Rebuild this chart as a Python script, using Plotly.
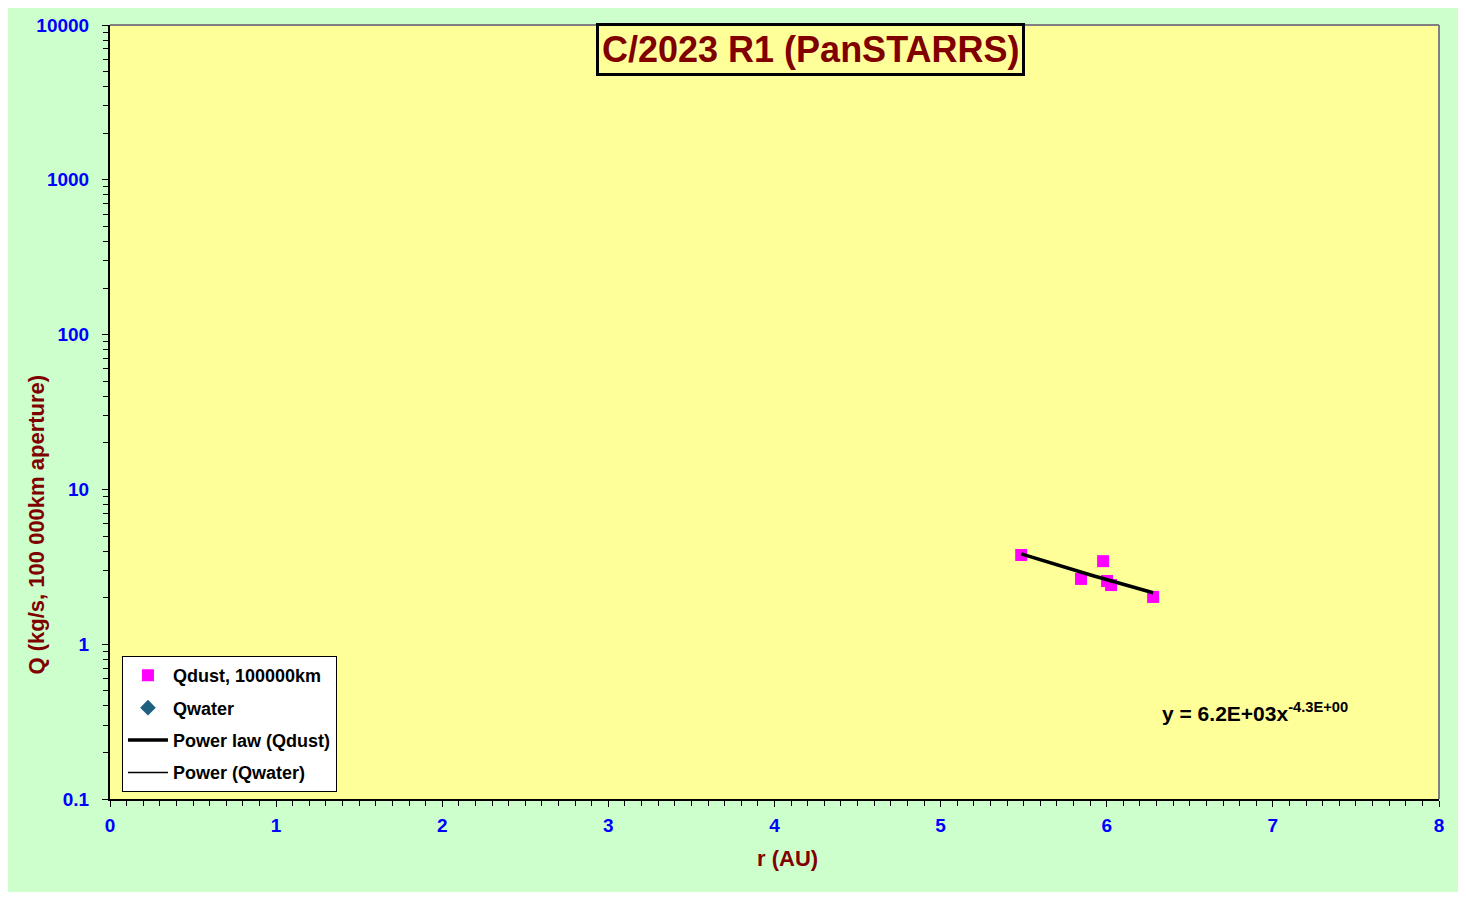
import numpy as np
import plotly.graph_objects as go

# Data
r_dust = [5.485, 5.845, 5.978, 6.002, 6.026, 6.279]
q_dust = [3.77, 2.64, 3.44, 2.56, 2.41, 2.02]
r_water = []
q_water = []
y_ticks = [0.1, 1, 10, 100, 1000, 10000]
y_tick_labels = ["0.1", "1", "10", "100", "1000", "10000"]
x_ticks = [0, 1, 2, 3, 4, 5, 6, 7, 8]

title_text = "C/2023 R1 (PanSTARRS)"
equation_text = "y = 6.2E+03x<sup>-4.3E+00</sup>"
x_title = "r (AU)"
y_title = "Q (kg/s, 100 000km aperture)"

# power-law trend from the data (log-log least squares)
b, a = np.polyfit(np.log(r_dust), np.log(q_dust), 1)
r_fit = np.linspace(min(r_dust), max(r_dust), 30)
q_fit = np.exp(a) * r_fit ** b

FONT = "Liberation Sans, Arial, sans-serif"
DARKRED = "#800000"
BLUE = "#0000FF"

fig = go.Figure()
fig.add_trace(go.Scatter(x=r_dust, y=q_dust, mode="markers", name="<b>Qdust, 100000km</b>",
                         legendgroup="g1",
                         marker=dict(symbol="square", size=12, color="#FF00FF")))
fig.add_trace(go.Scatter(x=r_water if r_water else [None], y=q_water if q_water else [None],
                         mode="markers", name="<b>Qwater</b>", legendgroup="g2",
                         marker=dict(symbol="diamond", size=12, color="#1F5F80")))
fig.add_trace(go.Scatter(x=r_fit, y=q_fit, mode="lines", name="<b>Power law (Qdust)</b>",
                         legendgroup="g3",
                         line=dict(color="black", width=3.5)))
fig.add_trace(go.Scatter(x=[None], y=[None], mode="lines", name="<b>Power (Qwater)</b>",
                         legendgroup="g4",
                         line=dict(color="black", width=1.5)))

fig.update_layout(
    width=1450, height=884,
    margin=dict(l=102, r=19, t=17, b=93),
    paper_bgcolor="#CCFFCC",
    plot_bgcolor="#FFFF99",
    font=dict(family=FONT, color="black"),
    showlegend=True,
    legend=dict(x=0.009, y=0.009, xanchor="left", yanchor="bottom",
                bgcolor="white", bordercolor="black", borderwidth=1,
                font=dict(family=FONT, size=18, color="black"),
                tracegroupgap=6, itemwidth=40,
                title=None),
    xaxis=dict(range=[0, 8], tickvals=x_ticks, ticktext=[f"<b>{v}</b>" for v in x_ticks],
               showgrid=False, zeroline=False, automargin=False,
               showline=True, linecolor="black", linewidth=2,
               ticks="outside", ticklen=6, tickcolor="black", tickwidth=1,
               minor=dict(dtick=0.1, ticks="outside", ticklen=5, tickcolor="black", tickwidth=1, showgrid=False),
               tickfont=dict(family=FONT, size=19, color=BLUE),
               ticklabelstandoff=2),
    yaxis=dict(type="log", range=[-1, 4], tickvals=y_ticks,
               ticktext=[f"<b>{t}</b>" for t in y_tick_labels],
               showgrid=False, zeroline=False, automargin=False,
               showline=True, linecolor="black", linewidth=2,
               ticks="outside", ticklen=6, tickcolor="black", tickwidth=1,
               minor=dict(dtick="D1", ticks="outside", ticklen=5, tickcolor="black", tickwidth=1, showgrid=False),
               tickfont=dict(family=FONT, size=19, color=BLUE),
               ticklabelstandoff=9),
)

# plot area border (top and right, gray)
fig.add_shape(type="line", xref="paper", yref="paper", x0=0, x1=1, y0=1, y1=1,
              line=dict(color="#808080", width=2))
fig.add_shape(type="line", xref="paper", yref="paper", x0=1, x1=1, y0=0, y1=1,
              line=dict(color="#808080", width=2))

fig.add_annotation(text=f"<b>{title_text}</b>", xref="paper", yref="paper",
                   x=0.527, y=0.968, xanchor="center", yanchor="middle", showarrow=False,
                   font=dict(family=FONT, size=36, color=DARKRED),
                   bgcolor="#FFFF99", bordercolor="black", borderwidth=3, borderpad=3)
fig.add_annotation(text=f"<b>{equation_text}</b>", xref="x", yref="y",
                   x=6.32, y=-0.438, xanchor="left", yanchor="middle", showarrow=False,
                   font=dict(family=FONT, size=21, color="black"))
# axis titles
fig.add_annotation(text=f"<b>{x_title}</b>", xref="paper", yref="paper",
                   x=0.510, y=0, yshift=-59, xanchor="center", yanchor="middle", showarrow=False,
                   font=dict(family=FONT, size=22, color=DARKRED))
fig.add_annotation(text=f"<b>{y_title}</b>", xref="paper", yref="paper",
                   x=0, xshift=-74, y=0.3547, xanchor="center", yanchor="middle", showarrow=False,
                   textangle=-90,
                   font=dict(family=FONT, size=22, color=DARKRED))

fig.write_html("out.html")
